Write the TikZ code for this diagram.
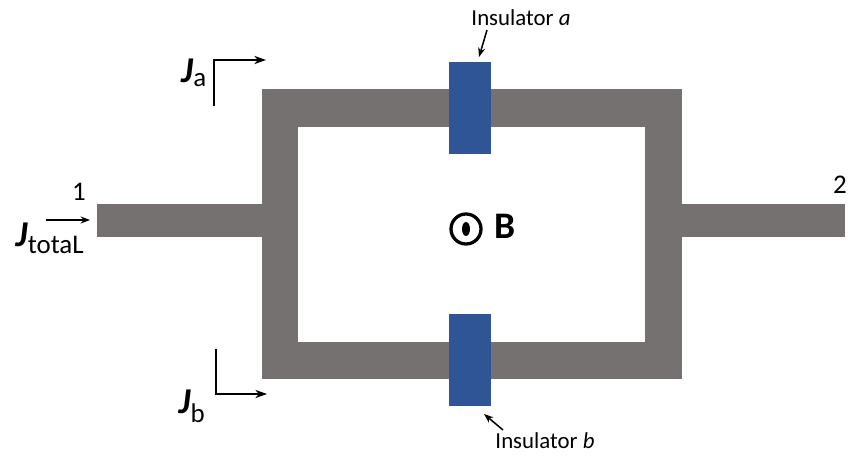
\documentclass[tikz,border=0pt]{standalone}
\usepackage{fontspec}
\setmainfont{Carlito}
\usetikzlibrary{arrows.meta}
\definecolor{wiregray}{HTML}{767171}
\definecolor{insblue}{HTML}{2F5597}
\tikzset{
  wire/.style={fill=wiregray},
  insul/.style={fill=insblue, minimum width=1.26cm, minimum height=2.76cm, inner sep=0pt},
  lbl/.style={font=\fontsize{19.5}{22}\selectfont, inner sep=1pt},
  curr/.style={font=\fontsize{31}{33}\selectfont\bfseries\itshape, inner sep=1pt},
  flow/.style={line width=1.6pt, -{Stealth[length=10pt, width=7pt]}},
  pointer/.style={line width=1.3pt, -{Stealth[length=8pt, width=6pt]}}
}
\newcommand{\subtxt}[1]{\textsubscript{\normalfont\mdseries\upshape\fontsize{23}{25}\selectfont #1}}
\begin{document}
\begin{tikzpicture}[x=0.03cm, y=-0.03cm]
\useasboundingbox (0,0) rectangle (848,457);

% frame and leads
\fill[wire] (262,89) rectangle (682,379);
\fill[white] (298,127) rectangle (645,342);
\fill[wire] (97,204) rectangle (262,237);
\fill[wire] (682,204) rectangle (845,237);

% insulators
\node[insul] (insA) at (470,108) {};
\node[insul] (insB) at (470,360) {};
\node[lbl] (labA) at (521,18) {Insulator \textit{a}};
\node[lbl] (labB) at (545,441) {Insulator \textit{b}};
\coordinate (tailA) at (487,30);
\coordinate (headA) at (479,57);
\coordinate (tailB) at (503,430);
\coordinate (headB) at (484,414);
\draw[pointer] (tailA) -- (headA);
\draw[pointer] (tailB) -- (headB);

% field
\node[circle, draw, line width=2.8pt, minimum size=0.9cm, inner sep=0pt] (fld) at (466,229) {};
\fill (fld.center) ellipse (4 and 7);
\node[font=\fontsize{32}{34}\selectfont\bfseries, inner sep=0pt] (bB) at (505,226) {B};

% currents
\coordinate (aStart) at (214,106);
\coordinate (aCorner) at (214,60);
\coordinate (aEnd) at (266,60);
\draw[flow] (aStart) -- (aCorner) -- (aEnd);
\node[curr] (ja) at (194,73) {J\subtxt{a}};

\coordinate (bStart) at (216,349);
\coordinate (bCorner) at (216,394);
\coordinate (bEnd) at (267,394);
\draw[flow] (bStart) -- (bCorner) -- (bEnd);
\node[curr] (jb) at (192,406) {J\subtxt{b}};

\coordinate (tStart) at (46,220);
\coordinate (tEnd) at (90,220);
\draw[line width=1.2pt, -{Stealth[length=8pt, width=6pt]}] (tStart) -- (tEnd);
\node[curr] (jt) at (50,238) {J\subtxt{totaL}};

\node[font=\fontsize{23}{25}\selectfont, inner sep=0pt] (one) at (79,192) {1};
\node[font=\fontsize{23}{25}\selectfont, inner sep=0pt, anchor=east] (two) at (847,185) {2};
\end{tikzpicture}
\end{document}
